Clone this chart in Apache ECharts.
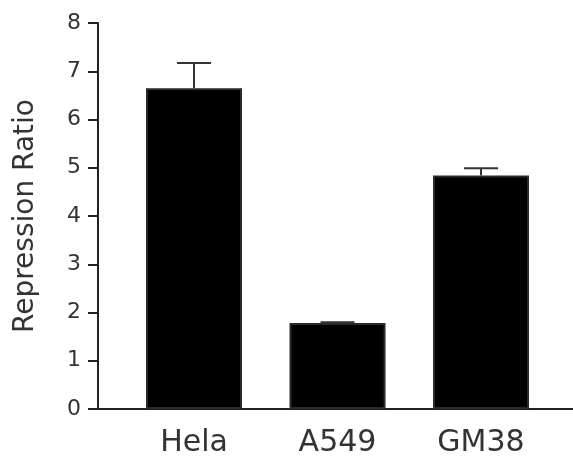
<!DOCTYPE html>
<html>
<head>
<meta charset="utf-8">
<script src="https://cdn.jsdelivr.net/npm/echarts@6/dist/echarts.min.js"></script>
<style>
  html, body { margin: 0; padding: 0; background: #fff; }
  #chart { width: 573px; height: 466px; }
</style>
</head>
<body>
<div id="chart"></div>
<script>
const categories = ["Hela", "A549", "GM38"];
const ratios = [6.65, 1.78, 4.84];
const errors = [0.52, 0.02, 0.15];
const yTicks = [0, 1, 2, 3, 4, 5, 6, 7, 8];

const font = "DejaVu Sans";

const myChart = echarts.init(document.getElementById("chart"));

const option = {
  backgroundColor: "#fff",
  animation: false,
  grid: { left: 98, right: 0, top: 23, bottom: 57 },
  xAxis: {
    type: "value",
    min: -0.669,
    max: 2.641,
    axisLine: { show: true, onZero: false, lineStyle: { color: "#222", width: 2 } },
    axisTick: { show: false },
    splitLine: { show: false },
    axisLabel: {
      customValues: [0, 1, 2],
      formatter: (v) => categories[Math.round(v)],
      color: "#333",
      fontFamily: font,
      fontSize: 30,
      margin: 19
    }
  },
  yAxis: {
    type: "value",
    min: yTicks[0],
    max: yTicks[yTicks.length - 1],
    interval: 1,
    name: "Repression Ratio",
    nameLocation: "middle",
    nameGap: 58,
    nameTextStyle: { color: "#333", fontFamily: font, fontSize: 28 },
    axisLine: { show: true, onZero: false, lineStyle: { color: "#222", width: 2 } },
    axisTick: { show: true, length: 10, lineStyle: { color: "#222", width: 2 } },
    splitLine: { show: false },
    axisLabel: { color: "#333", fontFamily: font, fontSize: 22, margin: 17 }
  },
  series: [
    {
      type: "bar",
      barWidth: 96,
      data: ratios.map((v, i) => [i, v]),
      itemStyle: { color: "#000", borderColor: "#2a2a2a", borderWidth: 2 },
      z: 2
    },
    {
      // error bars (upper only)
      type: "custom",
      z: 3,
      data: ratios.map((v, i) => [i, v, v + errors[i]]),
      renderItem: function (params, api) {
        const base = api.coord([api.value(0), api.value(1)]);
        const top = api.coord([api.value(0), api.value(2)]);
        const half = 17;
        const style = { stroke: "#333", lineWidth: 2 };
        return {
          type: "group",
          children: [
            { type: "line", shape: { x1: base[0], y1: base[1], x2: top[0], y2: top[1] }, style: style },
            { type: "line", shape: { x1: top[0] - half, y1: top[1], x2: top[0] + half, y2: top[1] }, style: style }
          ]
        };
      }
    }
  ]
};

myChart.setOption(option);
</script>
</body>
</html>
